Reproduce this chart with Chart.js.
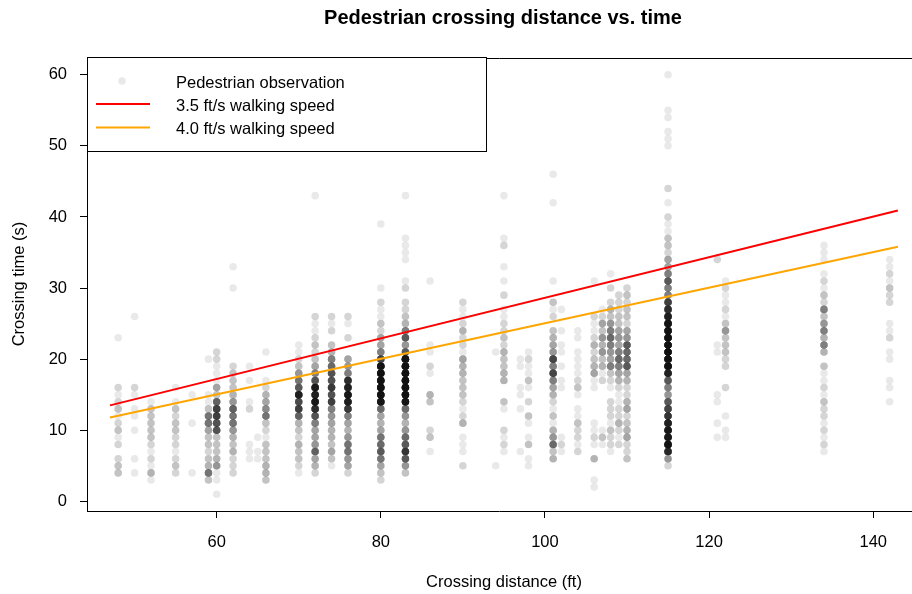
<!DOCTYPE html>
<html>
<head>
<meta charset="utf-8">
<script src="https://cdn.jsdelivr.net/npm/chart.js@4.4.1/dist/chart.umd.min.js"></script>
<style>
  html, body { margin: 0; padding: 0; background: #fff; }
  #wrap { width: 912px; height: 594px; }
</style>
</head>
<body>
<div id="wrap"><canvas id="chart"></canvas></div>
<script>
// crossing distances (ft) that have observations
const distances = [48, 50, 52, 55, 57, 59, 60, 62, 64, 65, 66, 70, 72, 74, 76, 80, 83, 86, 90, 94,
  95, 97, 98, 101, 102, 104, 106, 107, 108, 109, 110, 115, 121, 122, 134, 142];

// for each distance: [crossing time (s), number of pedestrians]
const timeCounts = [
  [[23,1],[16,2],[15,1],[14,2],[13,3],[12,1],[11,2],[10,3],[9,1],[8,2],[6,2],[5,3],[4,3]],
  [[26,1],[16,2],[15,1],[13,1],[12,1],[10,1],[6,1],[4,1]],
  [[14,1],[13,3],[12,3],[11,3],[10,3],[9,3],[8,2],[7,1],[6,2],[5,1],[4,4],[3,1]],
  [[16,1],[14,1],[13,3],[12,2],[11,3],[10,3],[9,2],[8,2],[7,1],[6,2],[5,3],[4,2]],
  [[15,1],[11,1],[4,1]],
  [[20,1],[15,1],[14,1],[13,3],[12,9],[11,9],[10,5],[9,3],[8,3],[7,2],[6,3],[5,4],[4,9],[3,3]],
  [[21,2],[20,2],[19,1],[18,1],[17,1],[16,5],[15,3],[14,11],[13,16],[12,16],[11,13],[10,13],[9,3],[8,3],[7,3],[6,4],[5,6],[4,1],[3,1],[1,1]],
  [[33,1],[30,1],[19,2],[18,3],[17,3],[16,3],[15,4],[14,6],[13,11],[12,9],[11,9],[10,6],[9,4],[8,3],[7,4],[6,2],[5,2],[4,2]],
  [[19,1],[17,1],[14,1],[13,2],[8,1],[7,1],[6,1]],
  [[9,1],[7,1],[6,1]],
  [[21,1],[17,1],[16,2],[15,4],[14,5],[13,7],[12,9],[11,3],[10,2],[9,1],[8,3],[7,3],[6,3],[5,4],[4,4],[3,3]],
  [[22,1],[21,1],[20,2],[19,3],[18,6],[17,9],[16,12],[15,25],[14,14],[13,16],[12,11],[11,4],[10,3],[9,2],[8,4],[7,3],[6,3],[5,2],[4,1]],
  [[43,1],[26,2],[25,1],[24,1],[23,2],[22,3],[21,2],[20,3],[19,5],[18,8],[17,13],[16,28],[15,24],[14,28],[13,20],[12,13],[11,8],[10,5],[9,5],[8,6],[7,11],[6,5],[5,4],[4,2]],
  [[26,2],[25,1],[24,2],[22,3],[21,4],[20,8],[19,10],[18,13],[17,13],[16,17],[15,13],[14,16],[13,8],[12,6],[11,5],[10,4],[9,4],[8,3],[7,5],[6,3],[5,1]],
  [[26,2],[25,1],[23,2],[20,5],[19,6],[18,8],[17,20],[16,24],[15,28],[14,25],[13,17],[12,8],[11,5],[10,4],[9,6],[8,9],[7,9],[6,6],[5,5],[4,2]],
  [[39,1],[30,1],[28,2],[27,1],[26,1],[25,3],[24,2],[23,5],[22,5],[21,8],[20,15],[19,32],[18,34],[17,34],[16,34],[15,32],[14,30],[13,10],[12,5],[11,4],[10,5],[9,9],[8,10],[7,12],[6,9],[5,5],[4,3],[3,2]],
  [[43,1],[37,1],[36,1],[35,1],[34,1],[31,1],[30,2],[28,2],[27,2],[26,3],[25,4],[24,8],[23,12],[22,6],[21,12],[20,32],[19,34],[18,34],[17,34],[16,34],[15,34],[14,30],[13,10],[12,6],[11,4],[10,6],[9,10],[8,12],[7,18],[6,12],[5,6],[4,3]],
  [[31,1],[22,1],[21,1],[19,2],[18,1],[15,4],[14,3],[10,2],[9,3],[7,1]],
  [[28,2],[27,1],[26,1],[25,2],[24,4],[23,2],[22,2],[21,1],[20,5],[19,4],[18,4],[17,3],[16,3],[15,3],[14,2],[13,1],[12,2],[11,4],[9,1],[8,1],[7,1],[5,2]],
  [[21,1],[5,1]],
  [[43,1],[37,1],[36,2],[33,1],[31,1],[29,2],[27,1],[26,1],[25,2],[24,2],[23,3],[22,2],[21,4],[20,3],[19,3],[18,4],[17,4],[14,3],[13,1],[10,2],[9,1],[8,2],[7,1]],
  [[20,1],[19,1],[16,1],[15,1],[13,1],[7,1]],
  [[21,1],[20,2],[19,1],[18,1],[17,3],[16,1],[14,2],[12,3],[11,1],[9,1],[8,3],[6,1],[5,1]],
  [[46,1],[42,1],[31,1],[28,3],[27,1],[26,2],[24,3],[23,4],[22,5],[21,6],[20,15],[19,8],[18,15],[17,8],[16,5],[15,4],[14,2],[13,1],[12,3],[11,1],[10,4],[9,6],[8,10],[7,3],[6,4]],
  [[27,1],[24,1],[22,1],[21,1],[19,1],[17,1],[16,1],[9,1],[8,2],[7,1]],
  [[24,1],[23,1],[21,1],[20,1],[19,1],[18,1],[17,2],[16,3],[15,1],[13,1],[12,1],[11,3],[10,2],[9,2],[8,1],[7,2]],
  [[31,1],[26,2],[25,1],[24,1],[23,2],[22,4],[21,2],[20,3],[19,4],[18,5],[17,1],[16,1],[11,1],[10,1],[9,2],[8,1],[6,4],[3,1],[2,1]],
  [[27,1],[26,2],[25,5],[24,3],[23,6],[22,4],[21,6],[20,3],[19,4],[18,1],[17,2],[10,1],[9,3],[8,1]],
  [[32,1],[30,2],[28,2],[27,4],[26,3],[25,6],[24,8],[23,10],[22,8],[21,6],[20,5],[19,8],[18,3],[17,2],[16,1],[14,2],[13,2],[12,2],[11,1],[10,3],[9,2],[8,2],[7,1]],
  [[29,2],[28,2],[27,2],[26,3],[25,3],[24,5],[23,6],[22,5],[21,8],[20,10],[19,8],[18,5],[17,4],[16,2],[15,1],[14,1],[13,2],[12,2],[11,4],[10,2],[9,1],[8,2]],
  [[30,2],[29,3],[28,2],[27,3],[26,3],[25,2],[24,5],[23,6],[22,12],[21,10],[20,10],[19,12],[18,5],[17,4],[16,2],[15,2],[14,4],[13,5],[12,2],[11,3],[10,4],[9,5],[8,2],[7,2],[6,3]],
  [[60,1],[55,1],[54,1],[52,1],[51,1],[50,1],[44,2],[42,1],[40,2],[39,1],[38,1],[37,3],[36,3],[35,2],[34,5],[33,5],[32,8],[31,12],[30,8],[29,8],[28,16],[27,20],[26,25],[25,32],[24,32],[23,34],[22,32],[21,34],[20,32],[19,34],[18,24],[17,12],[16,8],[15,6],[14,12],[13,15],[12,18],[11,24],[10,28],[9,28],[8,32],[7,22],[6,6],[5,2]],
  [[34,2],[22,1],[21,1],[15,1],[14,1],[11,1],[9,1]],
  [[31,1],[30,2],[29,1],[28,1],[27,2],[26,1],[25,3],[24,6],[23,3],[22,3],[21,3],[20,2],[19,2],[16,2],[12,1],[10,1],[9,1]],
  [[36,1],[35,1],[34,1],[32,1],[31,2],[30,1],[29,3],[28,2],[27,8],[26,3],[25,6],[24,8],[23,4],[22,8],[21,4],[19,3],[18,1],[17,1],[16,2],[15,1],[14,3],[13,2],[12,2],[11,1],[10,2],[9,1],[8,2],[7,1]],
  [[34,1],[33,1],[32,2],[31,1],[30,3],[29,2],[28,2],[25,1],[24,1],[23,2],[21,1],[20,1],[17,1],[16,1],[14,1]]
];

// walking-speed reference lines, read at both ends
const lineX = [47.0, 143];
const line35 = [13.5, 40.9];
const line40 = [11.8, 35.8];

const xTicks = [60, 80, 100, 120, 140];
const yTicks = [0, 10, 20, 30, 40, 50, 60];

const FONT = "'Liberation Sans', Arial, sans-serif";

const points = [];
distances.forEach((d, i) => {
  timeCounts[i].forEach(([t, n]) => {
    for (let k = 0; k < n; k++) points.push({ x: d, y: t });
  });
});

const decor = {
  id: 'decor',
  afterDraw(chart) {
    const { ctx, chartArea: a, width } = chart;
    const ds = chart.data.datasets;
    ctx.save();
    // plot box: top and bottom sides, running off the right edge
    ctx.strokeStyle = '#000';
    ctx.lineWidth = 1;
    ctx.beginPath();
    ctx.moveTo(a.left, Math.round(a.top) + 0.5);
    ctx.lineTo(width, Math.round(a.top) + 0.5);
    ctx.moveTo(a.left, Math.round(a.bottom) + 0.5);
    ctx.lineTo(width, Math.round(a.bottom) + 0.5);
    ctx.stroke();

    // legend
    ctx.fillStyle = '#fff';
    ctx.fillRect(87.5, 57.5, 399, 94);
    ctx.strokeStyle = '#000';
    ctx.strokeRect(87.5, 57.5, 399, 94);
    ctx.fillStyle = ds[0].backgroundColor;
    ctx.beginPath();
    ctx.arc(122, 81, 3.8, 0, Math.PI * 2);
    ctx.fill();
    [[ds[1], 104], [ds[2], 127.5]].forEach(([d, y]) => {
      ctx.strokeStyle = d.borderColor;
      ctx.lineWidth = 2;
      ctx.beginPath();
      ctx.moveTo(96, y);
      ctx.lineTo(150, y);
      ctx.stroke();
    });
    ctx.fillStyle = '#000';
    ctx.font = '16.5px ' + FONT;
    ctx.textAlign = 'left';
    ctx.textBaseline = 'middle';
    ctx.fillText(ds[0].label, 176, 83);
    ctx.fillText(ds[1].label, 176, 106.5);
    ctx.fillText(ds[2].label, 176, 129.5);

    // titles
    ctx.textAlign = 'center';
    ctx.textBaseline = 'alphabetic';
    ctx.font = 'bold 20px ' + FONT;
    ctx.fillText('Pedestrian crossing distance vs. time', 503, 24);
    ctx.font = '16.5px ' + FONT;
    ctx.fillText('Crossing distance (ft)', 504, 587);
    ctx.translate(24, 284);
    ctx.rotate(-Math.PI / 2);
    ctx.fillText('Crossing time (s)', 0, 0);
    ctx.restore();
  }
};

new Chart(document.getElementById('chart'), {
  type: 'scatter',
  data: {
    datasets: [
      {
        label: 'Pedestrian observation',
        data: points,
        backgroundColor: 'rgba(0,0,0,0.085)',
        borderWidth: 0,
        pointRadius: 3.8,
        pointHoverRadius: 3.8,
        order: 2
      },
      {
        label: '3.5 ft/s walking speed',
        data: lineX.map((x, i) => ({ x, y: line35[i] })),
        showLine: true,
        borderColor: '#ff0000',
        borderWidth: 2,
        pointRadius: 0,
        order: 1
      },
      {
        label: '4.0 ft/s walking speed',
        data: lineX.map((x, i) => ({ x, y: line40[i] })),
        showLine: true,
        borderColor: '#ffa500',
        borderWidth: 2,
        pointRadius: 0,
        order: 1
      }
    ]
  },
  options: {
    responsive: true,
    maintainAspectRatio: false,
    animation: false,
    devicePixelRatio: 1,
    layout: { padding: { top: 58, right: 0, bottom: 0, left: 0 } },
    plugins: { legend: { display: false }, tooltip: { enabled: false } },
    scales: {
      x: {
        type: 'linear',
        min: 44.2,
        max: 144.26,
        afterBuildTicks: s => { s.ticks = xTicks.map(v => ({ value: v })); },
        afterFit: s => { s.height = 83; },
        grid: { drawOnChartArea: false, tickLength: 7, color: '#000' },
        border: { display: false },
        ticks: { color: '#000', padding: 15, maxRotation: 0, autoSkip: false, font: { family: FONT, size: 16.5 } }
      },
      y: {
        min: -1.36,
        max: 62.36,
        afterBuildTicks: s => { s.ticks = yTicks.map(v => ({ value: v })); },
        afterFit: s => { s.width = 87; },
        grid: { drawOnChartArea: false, tickLength: 7, color: '#000' },
        border: { color: '#000', width: 1 },
        ticks: { color: '#000', padding: 13, autoSkip: false, font: { family: FONT, size: 16.5 } }
      }
    }
  },
  plugins: [decor]
});
</script>
</body>
</html>
